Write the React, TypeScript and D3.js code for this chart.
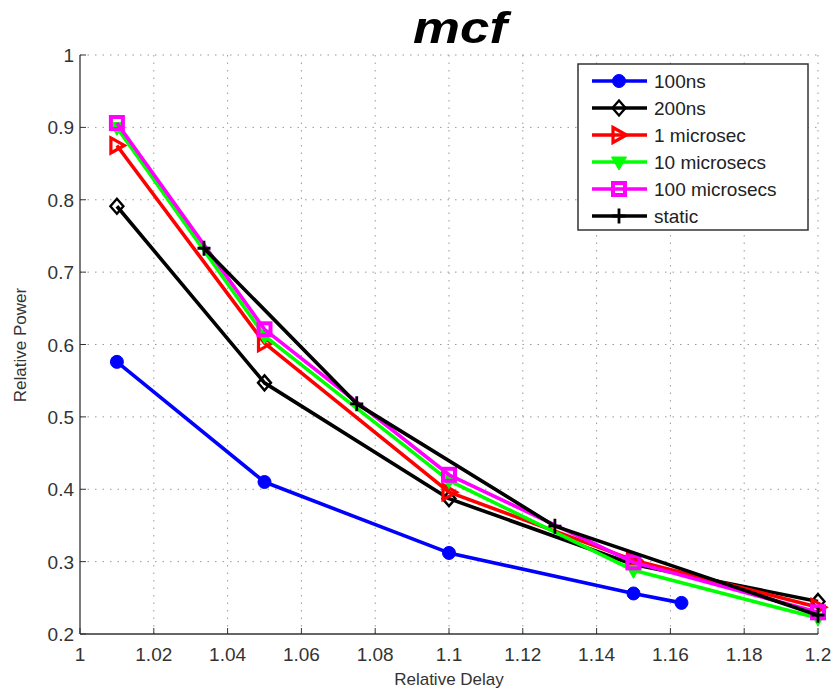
import React from "react";
import * as d3 from "d3";

const seriesNames = ["100ns", "200ns", "1 microsec", "10 microsecs", "100 microsecs", "static"];
const seriesColors = ["#0000ff", "#000000", "#ff0000", "#00ff00", "#ff00ff", "#000000"];
const seriesMarkers = ["circle", "diamond", "triRight", "triDown", "square", "plus"];

const x100ns = [1.01, 1.05, 1.1, 1.15, 1.163];
const y100ns = [0.576, 0.41, 0.312, 0.256, 0.243];
const x200ns = [1.01, 1.05, 1.1, 1.15, 1.2];
const y200ns = [0.791, 0.547, 0.387, 0.296, 0.245];
const x1us = [1.01, 1.05, 1.1, 1.15, 1.2];
const y1us = [0.875, 0.602, 0.396, 0.302, 0.237];
const x10us = [1.01, 1.05, 1.1, 1.15, 1.2];
const y10us = [0.9, 0.612, 0.412, 0.288, 0.222];
const x100us = [1.01, 1.05, 1.1, 1.15, 1.2];
const y100us = [0.906, 0.621, 0.42, 0.299, 0.23];
const xStatic = [1.0336, 1.075, 1.1287, 1.2];
const yStatic = [0.733, 0.518, 0.349, 0.226];

const xTicks = [1, 1.02, 1.04, 1.06, 1.08, 1.1, 1.12, 1.14, 1.16, 1.18, 1.2];
const yTicks = [0.2, 0.3, 0.4, 0.5, 0.6, 0.7, 0.8, 0.9, 1];

const seriesX = [x100ns, x200ns, x1us, x10us, x100us, xStatic];
const seriesY = [y100ns, y200ns, y1us, y10us, y100us, yStatic];

function Marker({ type, cx, cy, color }: { type: string; cx: number; cy: number; color: string }) {
  const sw = 2.4;
  switch (type) {
    case "circle":
      return <circle cx={cx} cy={cy} r={6.5} fill={color} stroke={color} />;
    case "diamond":
      return <path d={`M${cx},${cy - 7.5}L${cx + 6.5},${cy}L${cx},${cy + 7.5}L${cx - 6.5},${cy}Z`} fill="none" stroke={color} strokeWidth={sw} />;
    case "triRight":
      return <path d={`M${cx - 6},${cy - 7.5}L${cx + 7.5},${cy}L${cx - 6},${cy + 7.5}Z`} fill="none" stroke={color} strokeWidth={sw + 0.8} />;
    case "triDown":
      return <path d={`M${cx - 7.5},${cy - 5}L${cx + 7.5},${cy - 5}L${cx},${cy + 8}Z`} fill={color} stroke={color} strokeWidth={1} />;
    case "square":
      return <rect x={cx - 6} y={cy - 6} width={12} height={12} fill="none" stroke={color} strokeWidth={4} />;
    case "plus":
      return <path d={`M${cx - 6.5},${cy}L${cx + 6.5},${cy}M${cx},${cy - 7.5}L${cx},${cy + 7.5}`} stroke={color} strokeWidth={2.8} />;
    default:
      return null;
  }
}

export default function App() {
  const W = 835, H = 689;
  const left = 80, right = 818, top = 55, bottom = 634;
  const x = d3.scaleLinear().domain([1, 1.2]).range([left, right]);
  const y = d3.scaleLinear().domain([0.2, 1]).range([bottom, top]);
  const line = d3.line<[number, number]>().x((d) => x(d[0])).y((d) => y(d[1]));
  const font = "'Liberation Sans', Arial, Helvetica, sans-serif";
  const tickColor = "#333";

  const legX = 578, legY = 64, legW = 230, legH = 166;
  const rowH = 27;

  return (
    <svg width={W} height={H} style={{ position: "absolute", left: 0, top: 0, background: "#fff" }} fontFamily={font}>
      {/* grid */}
      {xTicks.slice(1).map((t) => (
        <line key={"gx" + t} x1={x(t)} x2={x(t)} y1={bottom} y2={top} stroke="#999" strokeWidth={1} strokeDasharray="1.5,6" />
      ))}
      {yTicks.slice(1).map((t) => (
        <line key={"gy" + t} x1={left} x2={right} y1={y(t)} y2={y(t)} stroke="#999" strokeWidth={1} strokeDasharray="1.5,6" />
      ))}
      {/* axes */}
      <line x1={left} x2={right} y1={bottom} y2={bottom} stroke="#333" strokeWidth={1.3} />
      <line x1={left} x2={left} y1={bottom} y2={top} stroke="#333" strokeWidth={1.3} />
      {xTicks.map((t) => (
        <g key={"xt" + t}>
          <line x1={x(t)} x2={x(t)} y1={bottom} y2={bottom - 6} stroke="#333" strokeWidth={1} />
          <text x={x(t)} y={bottom + 27} textAnchor="middle" fontSize={19} fill={tickColor}>{d3.format("")(t)}</text>
        </g>
      ))}
      {yTicks.map((t) => (
        <g key={"yt" + t}>
          <line x1={left} x2={left + 6} y1={y(t)} y2={y(t)} stroke="#333" strokeWidth={1} />
          <text x={left - 6} y={y(t) + 7} textAnchor="end" fontSize={19} fill={tickColor}>{d3.format("")(t)}</text>
        </g>
      ))}
      <text x={449} y={685} textAnchor="middle" fontSize={17} fill={tickColor}>Relative Delay</text>
      <text transform={`translate(26,345) rotate(-90)`} textAnchor="middle" fontSize={17} fill={tickColor}>Relative Power</text>
      <text x={413} y={43} fontSize={44} fontWeight="bold" fontStyle="italic" fill="#000" textLength={94} lengthAdjust="spacingAndGlyphs">mcf</text>

      {/* series */}
      {seriesNames.map((name, i) => {
        const pts: [number, number][] = seriesX[i].map((v, j) => [v, seriesY[i][j]]);
        return (
          <g key={name}>
            <path d={line(pts) || ""} fill="none" stroke={seriesColors[i]} strokeWidth={3.6} strokeLinejoin="round" />
            {pts.map((p, j) => (
              <Marker key={j} type={seriesMarkers[i]} cx={x(p[0])} cy={y(p[1])} color={seriesColors[i]} />
            ))}
          </g>
        );
      })}

      {/* legend */}
      <rect x={legX} y={legY} width={legW} height={legH} fill="#fff" stroke="#333" strokeWidth={1.5} />
      {seriesNames.map((name, i) => {
        const cy = legY + 17 + i * rowH;
        return (
          <g key={"leg" + name}>
            <line x1={592} x2={647} y1={cy} y2={cy} stroke={seriesColors[i]} strokeWidth={3.6} />
            <Marker type={seriesMarkers[i]} cx={619} cy={cy} color={seriesColors[i]} />
            <text x={654} y={cy + 7} fontSize={19} fill="#222">{name}</text>
          </g>
        );
      })}
    </svg>
  );
}
